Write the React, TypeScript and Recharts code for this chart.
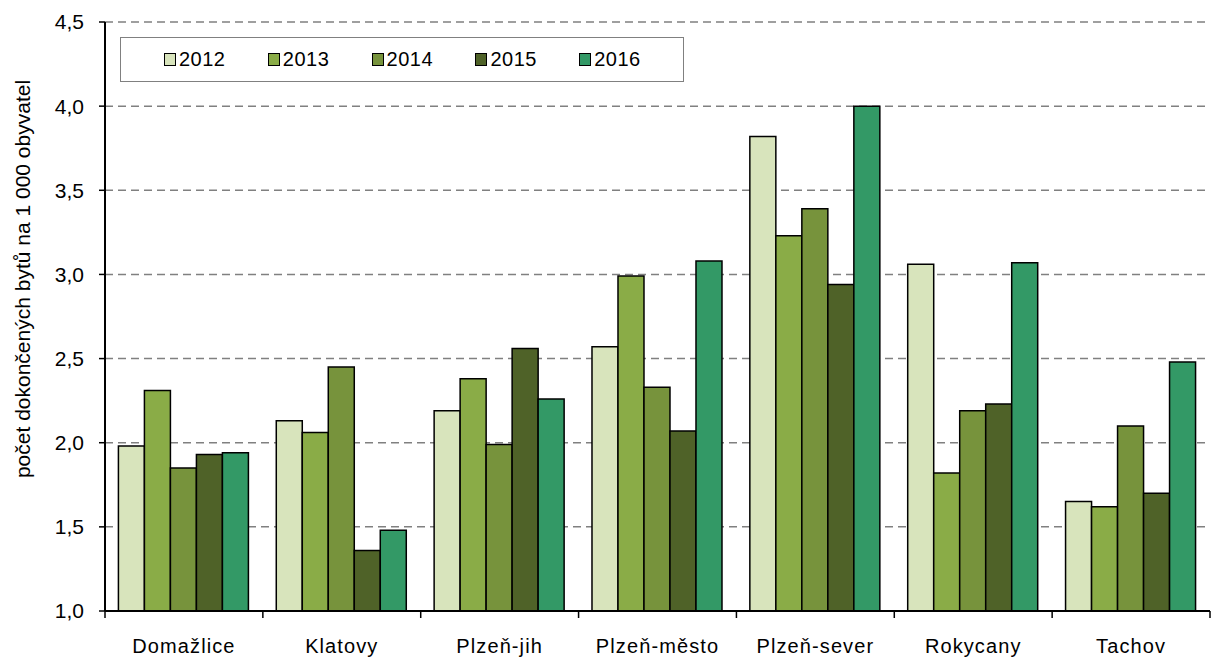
import React from 'react';
import { BarChart, Bar, XAxis, YAxis, CartesianGrid, Label } from 'recharts';

const okresy = ['Domažlice', 'Klatovy', 'Plzeň-jih', 'Plzeň-město', 'Plzeň-sever', 'Rokycany', 'Tachov'];
const roky = ['2012', '2013', '2014', '2015', '2016'];
const barvy = ['#D8E4BC', '#8AAC47', '#77933C', '#4F6228', '#339966'];

const v2012 = [1.98, 2.13, 2.19, 2.57, 3.82, 3.06, 1.65];
const v2013 = [2.31, 2.06, 2.38, 2.99, 3.23, 1.82, 1.62];
const v2014 = [1.85, 2.45, 1.99, 2.33, 3.39, 2.19, 2.1];
const v2015 = [1.93, 1.36, 2.56, 2.07, 2.94, 2.23, 1.7];
const v2016 = [1.94, 1.48, 2.26, 3.08, 4.0, 3.07, 2.48];

const yTicks = [1, 1.5, 2, 2.5, 3, 3.5, 4, 4.5];

const series = [v2012, v2013, v2014, v2015, v2016];
const data = okresy.map((name, i) => {
    const row: Record<string, string | number> = { name };
    roky.forEach((r, k) => { row[r] = series[k][i]; });
    return row;
});

const font = '"Liberation Sans", Arial, sans-serif';

// legenda jako html prekryv (Legend z recharts by ubrala misto grafu)
const LegendBox = () => (
    <div style={{ position: 'absolute', left: 120, top: 37, width: 564, height: 45, border: '1.5px solid #808080', background: '#fff', boxSizing: 'border-box',
        display: 'flex', alignItems: 'center', paddingLeft: 43, fontFamily: font, fontSize: 20, letterSpacing: 0.5, color: '#000' }}>
        {roky.map((r, k) => (
            <div key={r} style={{ display: 'flex', alignItems: 'center', width: 106 }}>
                <span style={{ display: 'inline-block', width: 10, height: 11, background: barvy[k], border: '1.5px solid #000', marginRight: 3 }} />
                <span>{r}</span>
            </div>
        ))}
    </div>
);

// popisek kategorie + ticky na hranicich kategorii
const CatTick = (props: any) => {
    const { x, y, payload, index, width } = props;
    const half = width / okresy.length / 2;
    const last = index === okresy.length - 1;
    return (
        <g>
            <line x1={x - half} y1={y} x2={x - half} y2={y + 7} stroke="#000" strokeWidth={1.5} />
            {last && <line x1={x + half} y1={y} x2={x + half} y2={y + 7} stroke="#000" strokeWidth={1.5} />}
            <text x={x} y={y + 42} textAnchor="middle" fontFamily={font} fontSize={20} letterSpacing={1.1} fill="#000">
                {payload.value}
            </text>
        </g>
    );
};

const YLabel = () => {
    const cy = 279;
    const cx = 24;
    return (
        <text x={cx} y={cy} transform={`rotate(-90 ${cx} ${cy})`} textAnchor="middle" dominantBaseline="middle"
            fontFamily={font} fontSize={21} fill="#000">
            počet dokončených bytů na 1 000 obyvatel
        </text>
    );
};

const App = () => {
    return (
        <div style={{ position: 'absolute', left: 0, top: 0, width: 1213, height: 659, background: '#fff' }}>
            <BarChart width={1213} height={659} data={data} margin={{ top: 22, right: 3, bottom: 0, left: 0 }}
                barCategoryGap="8.5%" barGap={0}>
                <CartesianGrid vertical={false} stroke="#808080" strokeWidth={1.5} strokeDasharray="8 5" />
                <XAxis dataKey="name" height={48} axisLine={{ stroke: '#000', strokeWidth: 2 }} tickLine={false}
                    tickSize={0} tickMargin={0} tick={<CatTick />} interval={0} />
                <YAxis width={105} domain={[1, 4.5]} ticks={yTicks} allowDataOverflow
                    axisLine={{ stroke: '#000', strokeWidth: 2 }} tickLine={{ stroke: '#000', strokeWidth: 1.5 }}
                    tickSize={6} tickMargin={15}
                    tick={{ fontFamily: font, fontSize: 21, fill: '#000' }}
                    tickFormatter={(v: number) => v.toFixed(1).replace('.', ',')}>
                    <Label content={<YLabel />} />
                </YAxis>
                {roky.map((r, k) => (
                    <Bar key={r} dataKey={r} fill={barvy[k]} stroke="#000" strokeWidth={1.5} isAnimationActive={false} />
                ))}
            </BarChart>
            <LegendBox />
        </div>
    );
};

export default App;
